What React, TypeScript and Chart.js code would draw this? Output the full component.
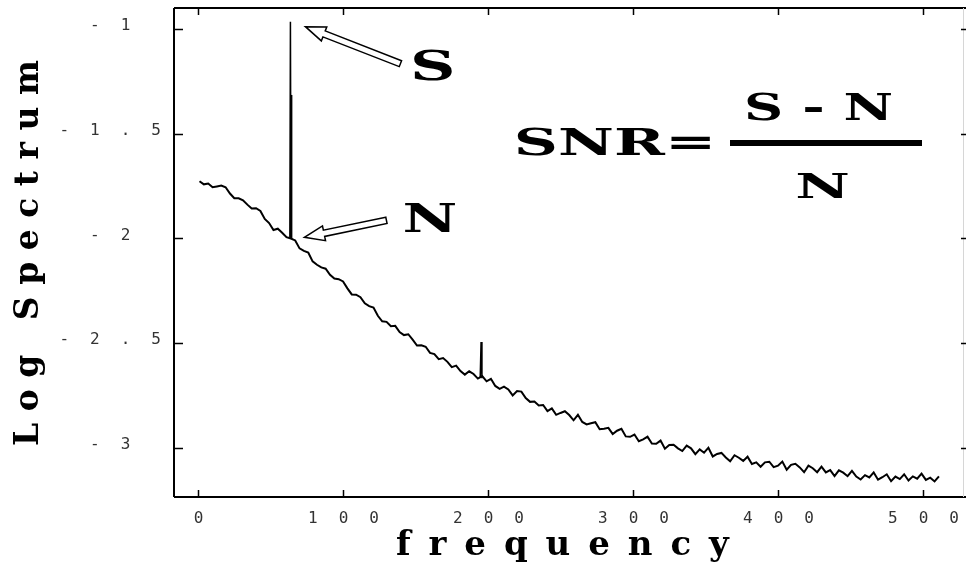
import React, { useEffect, useRef } from 'react';
import { Chart, registerables } from 'chart.js';

Chart.register(...registerables);

// ---------- data ----------
const FREQ_START = 1;
const FREQ_STEP = 3;
const logSpectrum = [
  -1.727, -1.742, -1.738, -1.756, -1.752, -1.748, -1.756, -1.786, -1.808, -1.809,
  -1.818, -1.839, -1.857, -1.856, -1.869, -1.907, -1.927, -1.960, -1.954, -1.973,
  -1.994, -2.001, -2.010, -2.048, -2.060, -2.068, -2.110, -2.126, -2.139, -2.145,
  -2.174, -2.192, -2.195, -2.206, -2.239, -2.268, -2.269, -2.281, -2.310, -2.324,
  -2.331, -2.370, -2.396, -2.399, -2.420, -2.418, -2.448, -2.462, -2.458, -2.484,
  -2.512, -2.511, -2.518, -2.547, -2.553, -2.577, -2.572, -2.590, -2.615, -2.608,
  -2.634, -2.651, -2.635, -2.648, -2.670, -2.658, -2.683, -2.671, -2.705, -2.719,
  -2.708, -2.722, -2.750, -2.729, -2.732, -2.763, -2.781, -2.779, -2.798, -2.796,
  -2.825, -2.812, -2.843, -2.834, -2.826, -2.844, -2.869, -2.843, -2.877, -2.889,
  -2.883, -2.878, -2.912, -2.909, -2.905, -2.935, -2.919, -2.910, -2.946, -2.948,
  -2.937, -2.969, -2.960, -2.947, -2.980, -2.981, -2.966, -3.005, -2.987, -2.986,
  -3.003, -3.016, -2.990, -3.003, -3.031, -3.008, -3.024, -3.000, -3.042, -3.030,
  -3.025, -3.047, -3.065, -3.036, -3.048, -3.063, -3.043, -3.078, -3.070, -3.091,
  -3.070, -3.067, -3.093, -3.086, -3.066, -3.105, -3.082, -3.077, -3.094, -3.117,
  -3.086, -3.098, -3.117, -3.090, -3.118, -3.107, -3.136, -3.108, -3.119, -3.136,
  -3.111, -3.138, -3.152, -3.131, -3.142, -3.118, -3.153, -3.141, -3.127, -3.160,
  -3.138, -3.150, -3.127, -3.157, -3.137, -3.148, -3.124, -3.154, -3.143, -3.161,
  -3.137,
];
const sPeakFreq = [63.3, 63.7, 64.1];
const sPeakLog = [-1.995, -0.965, -2.0];
const sShoulderFreq = [64.3, 64.3];
const sShoulderLog = [-2.0, -1.315];
const minorPeakFreq = [194.6, 195.2, 195.8];
const minorPeakLog = [-2.665, -2.495, -2.668];

const xTicks = [0, 100, 200, 300, 400, 500];
const yTicks = [-1, -1.5, -2, -2.5, -3];
const X_MIN = -16.6;
const X_MAX = 527.6;
const Y_MIN = -3.2355;
const Y_MAX = -0.8997;

const xTitle = 'frequency';
const yTitle = 'Log Spectrum';
const signalLabel = 'S';
const noiseLabel = 'N';
const formulaLeft = 'SNR=';
const formulaNum = 'S - N';
const formulaDen = 'N';

// ---------- drawing helpers ----------
function fitText(ctx: CanvasRenderingContext2D, text: string, font: string, x0: number, x1: number, baseline: number) {
  ctx.save();
  ctx.font = font;
  ctx.letterSpacing = '0px';
  ctx.textAlign = 'left';
  ctx.textBaseline = 'alphabetic';
  const m = ctx.measureText(text);
  const w = m.actualBoundingBoxRight + m.actualBoundingBoxLeft;
  ctx.translate(x0, baseline);
  ctx.scale((x1 - x0) / w, 1);
  ctx.fillText(text, m.actualBoundingBoxLeft, 0);
  ctx.restore();
}

function spacedText(ctx: CanvasRenderingContext2D, text: string, font: string, span: number) {
  ctx.font = font;
  ctx.letterSpacing = '0px';
  const m = ctx.measureText(text);
  const w = m.actualBoundingBoxRight + m.actualBoundingBoxLeft;
  const ls = (span - w) / (text.length - 1);
  ctx.letterSpacing = ls + 'px';
  ctx.textAlign = 'left';
  ctx.textBaseline = 'alphabetic';
  ctx.fillText(text, m.actualBoundingBoxLeft, 0);
  ctx.letterSpacing = '0px';
}

function hollowArrow(ctx: CanvasRenderingContext2D, tx: number, ty: number, ex: number, ey: number) {
  const dx = tx - ex, dy = ty - ey;
  const len = Math.hypot(dx, dy);
  const ux = dx / len, uy = dy / len;
  const nx = -uy, ny = ux;
  const w = 3.2, h = 7.5, L = 20;
  const bx = tx - ux * L, by = ty - uy * L;
  ctx.beginPath();
  ctx.moveTo(ex + nx * w, ey + ny * w);
  ctx.lineTo(bx + nx * w, by + ny * w);
  ctx.lineTo(bx + nx * h, by + ny * h);
  ctx.lineTo(tx, ty);
  ctx.lineTo(bx - nx * h, by - ny * h);
  ctx.lineTo(bx - nx * w, by - ny * w);
  ctx.lineTo(ex - nx * w, ey - ny * w);
  ctx.closePath();
  ctx.fillStyle = '#fff';
  ctx.fill();
  ctx.lineWidth = 1.5;
  ctx.strokeStyle = '#000';
  ctx.stroke();
}

const overlayPlugin = {
  id: 'overlay',
  beforeDraw(chart: any) {
    const ctx: CanvasRenderingContext2D = chart.ctx;
    ctx.save();
    ctx.fillStyle = '#fff';
    ctx.fillRect(0, 0, chart.width, chart.height);
    ctx.restore();
    ctx.letterSpacing = '21px';
  },
  afterDraw(chart: any) {
    const ctx: CanvasRenderingContext2D = chart.ctx;
    ctx.letterSpacing = '0px';
    const { left, right, top, bottom } = chart.chartArea;
    const xs = chart.scales.x;
    const ys = chart.scales.y;
    ctx.save();
    // frame
    ctx.strokeStyle = '#000';
    ctx.lineWidth = 2;
    ctx.beginPath();
    ctx.moveTo(left, top); ctx.lineTo(chart.width, top);
    ctx.moveTo(left, top); ctx.lineTo(left, bottom);
    ctx.moveTo(left, bottom); ctx.lineTo(chart.width, bottom);
    ctx.stroke();
    ctx.strokeStyle = '#d6d6d6';
    ctx.lineWidth = 1;
    ctx.beginPath();
    ctx.moveTo(right + 0.5, top); ctx.lineTo(right + 0.5, bottom);
    ctx.stroke();
    // inward ticks
    ctx.strokeStyle = '#000';
    ctx.lineWidth = 1.5;
    ctx.beginPath();
    for (const v of xTicks) {
      const px = Math.round(xs.getPixelForValue(v)) + 0.5;
      ctx.moveTo(px, bottom); ctx.lineTo(px, bottom - 7);
      ctx.moveTo(px, top); ctx.lineTo(px, top + 7);
    }
    for (const v of yTicks) {
      const py = Math.round(ys.getPixelForValue(v)) + 0.5;
      ctx.moveTo(left, py); ctx.lineTo(left + 9, py);
      ctx.moveTo(right - 2, py); ctx.lineTo(right + 3, py);
    }
    ctx.stroke();

    // axis titles
    ctx.fillStyle = '#000';
    ctx.save();
    ctx.translate(397, 555);
    spacedText(ctx, xTitle, 'bold 34px "DejaVu Serif"', 333);
    ctx.restore();
    ctx.save();
    ctx.translate(38, 445);
    ctx.rotate(-Math.PI / 2);
    spacedText(ctx, yTitle, 'bold 33px "DejaVu Serif"', 385);
    ctx.restore();

    // arrows anchored to the S peak
    const peakX = xs.getPixelForValue(sPeakFreq[1]);
    const peakTopY = ys.getPixelForValue(sPeakLog[1]);
    const peakBaseY = ys.getPixelForValue(sPeakLog[2]);
    hollowArrow(ctx, peakX + 15, peakTopY + 5, peakX + 110, peakTopY + 42);
    hollowArrow(ctx, peakX + 14, peakBaseY - 1, peakX + 96, peakBaseY - 18);

    ctx.fillStyle = '#000';
    fitText(ctx, signalLabel, 'bold 41px "DejaVu Serif"', 413, 453, 80);
    fitText(ctx, noiseLabel, 'bold 40px "DejaVu Serif"', 404, 455, 232);

    // formula
    fitText(ctx, formulaLeft, 'bold 38px "DejaVu Serif"', 517, 710, 155);
    fitText(ctx, formulaNum, 'bold 37px "DejaVu Serif"', 747, 892, 120);
    fitText(ctx, formulaDen, 'bold 34px "DejaVu Serif"', 797, 848, 198);
    ctx.fillRect(730, 140, 192, 6);
    ctx.restore();
  },
};

export default function App() {
  const ref = useRef<HTMLCanvasElement>(null);
  useEffect(() => {
    const canvas = ref.current;
    if (!canvas) return;
    const mainData = logSpectrum.map((v, i) => ({ x: FREQ_START + i * FREQ_STEP, y: v }));
    const sData = sPeakFreq.map((f, i) => ({ x: f, y: sPeakLog[i] }));
    const shData = sShoulderFreq.map((f, i) => ({ x: f, y: sShoulderLog[i] }));
    const mData = minorPeakFreq.map((f, i) => ({ x: f, y: minorPeakLog[i] }));
    const tickFont = { family: '"DejaVu Sans Mono", monospace', size: 16 };
    const line = { borderColor: '#000', pointRadius: 0, tension: 0, fill: false };
    const chart = new Chart(canvas, {
      type: 'line',
      data: {
        datasets: [
          { label: 'Log spectrum', data: mainData, borderWidth: 2, ...line },
          { label: 'S peak', data: sData, borderWidth: 1.5, ...line },
          { label: 'S peak shoulder', data: shData, borderWidth: 2.2, ...line },
          { label: 'minor peak', data: mData, borderWidth: 1.5, ...line },
        ],
      },
      options: {
        animation: false,
        responsive: false,
        events: [],
        layout: { padding: { top: 8, right: 3, left: 0, bottom: 0 } },
        plugins: { legend: { display: false }, tooltip: { enabled: false }, title: { display: false } },
        scales: {
          x: {
            type: 'linear',
            position: 'bottom',
            min: X_MIN,
            max: X_MAX,
            grid: { display: false, drawTicks: false },
            border: { display: false },
            ticks: {
              font: tickFont,
              color: '#333',
              padding: 12,
              labelOffset: 11,
              maxRotation: 0,
              autoSkip: false,
              callback: (v: any) => String(v),
            },
            afterBuildTicks: (s: any) => { s.ticks = xTicks.map((v) => ({ value: v })); },
            afterFit: (s: any) => { s.height = 68; s.paddingLeft = 0; s.paddingRight = 0; },
          },
          y: {
            type: 'linear',
            position: 'left',
            min: Y_MIN,
            max: Y_MAX,
            grid: { display: false, drawTicks: false },
            border: { display: false },
            ticks: {
              font: tickFont,
              color: '#333',
              padding: 34,
              crossAlign: 'center',
              labelOffset: -3,
              autoSkip: false,
              callback: (v: any) => String(v),
            },
            afterBuildTicks: (s: any) => { s.ticks = yTicks.map((v) => ({ value: v })); },
            afterFit: (s: any) => { s.width = 174; s.paddingTop = 0; s.paddingBottom = 0; },
          },
        },
      },
      plugins: [overlayPlugin],
    } as any);
    return () => chart.destroy();
  }, []);
  return (
    <div style={{ position: 'fixed', left: 0, top: 0, width: 966, height: 565, background: '#fff' }}>
      <canvas ref={ref} width={966} height={565} style={{ display: 'block', width: 966, height: 565 }} />
    </div>
  );
}
